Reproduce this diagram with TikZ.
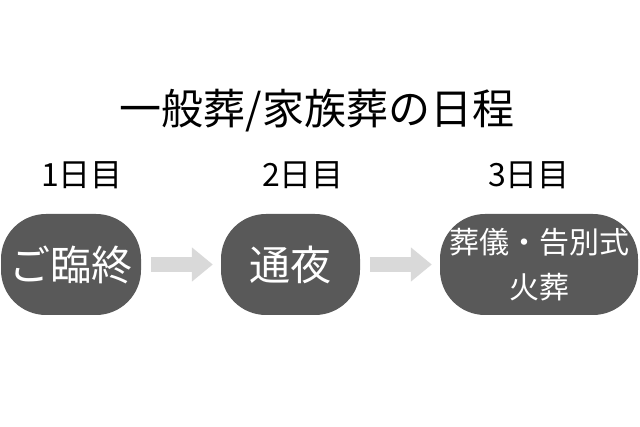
\documentclass[tikz,border=0pt]{standalone}
\usepackage{fontspec}
\setmainfont{Noto Sans CJK JP}
\usetikzlibrary{arrows.meta}
\definecolor{boxgray}{RGB}{89,89,89}
\definecolor{arrowgray}{RGB}{217,217,217}

\begin{document}
\begin{tikzpicture}[x=1pt,y=-1pt,
  daybox/.style={fill=boxgray,text=white,rounded corners=45pt,minimum height=101pt,inner sep=0pt,align=center},
  dayarrow/.style={arrowgray,line width=15pt,-{Triangle[width=33pt,length=21pt]},shorten <=10pt,shorten >=8pt},
  daylabel/.style={font=\fontsize{32}{32}\selectfont}]
\useasboundingbox (0,0) rectangle (640,427);
\node[font=\fontsize{42}{42}\selectfont] (title) at (317,111) {一般葬/家族葬の日程};
\node[daylabel] (day1) at (82,175) {1日目};
\node[daylabel] (day2) at (303,175) {2日目};
\node[daylabel] (day3) at (529,175) {3日目};
\node[daybox,minimum width=140pt,font=\fontsize{41}{41}\selectfont] (rinju) at (71,264.5) {ご臨終};
\node[daybox,minimum width=139pt,font=\fontsize{41}{41}\selectfont] (tsuya) at (290.5,264.5) {通夜};
\node[daybox,minimum width=198pt,font=\fontsize{30}{45}\selectfont] (sogi) at (539,264.5) {葬儀・告別式\\火葬};
\draw[dayarrow] (rinju) -- (tsuya);
\draw[dayarrow] (tsuya) -- (sogi);
\end{tikzpicture}
\end{document}
